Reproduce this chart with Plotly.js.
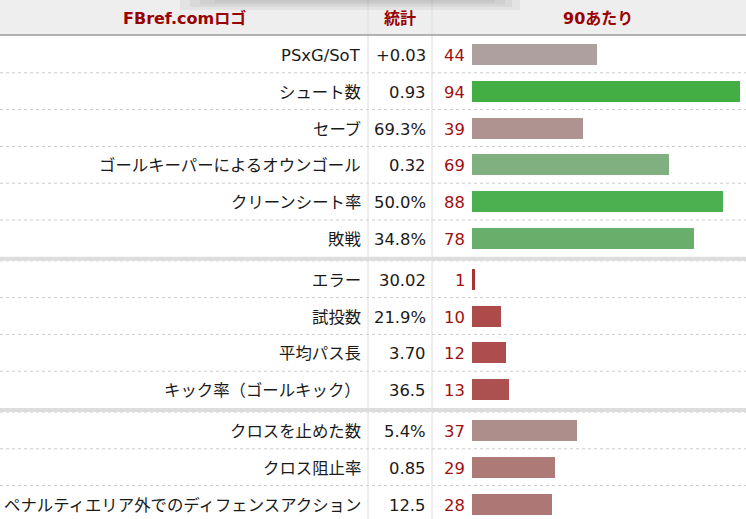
<!DOCTYPE html>
<html>
<head>
<meta charset="utf-8">
<script src="https://cdn.plot.ly/plotly-3.0.1.min.js"></script>
<style>html,body{margin:0;padding:0;background:#fff;}#chart{width:746px;height:519px;}</style>
</head>
<body>
<div id="chart"></div>
<script>
// ---- data ----
var headers = ["FBref.comロゴ", "統計", "90あたり"];
var labels = [
  "PSxG/SoT", "シュート数", "セーブ", "ゴールキーパーによるオウンゴール", "クリーンシート率", "敗戦",
  "エラー", "試投数", "平均パス長", "キック率（ゴールキック）",
  "クロスを止めた数", "クロス阻止率", "ペナルティエリア外でのディフェンスアクション"
];
var stats = ["+0.03", "0.93", "69.3%", "0.32", "50.0%", "34.8%",
             "30.02", "21.9%", "3.70", "36.5",
             "5.4%", "0.85", "12.5"];
var percentiles = [44, 94, 39, 69, 88, 78, 1, 10, 12, 13, 37, 29, 28];
var groupSizes = [6, 4, 3];

// ---- style ----
var barColors = ["#ada09e", "#42ae44", "#ae9391", "#80b080", "#4caf50", "#69ae6b",
                 "#a83535", "#ad4b4b", "#ad4d4d", "#ad5050",
                 "#ae8e8b", "#ad7a77", "#ad7775"];
var W = 746, H = 519;
var headerH = 35, rowH = 36.8, sepH = 4;
var barStart = 472, pxPerUnit = 268 / 94;
var col1 = 368, col2 = 432;
var font = "DejaVu Sans, 'Noto Sans CJK JP', sans-serif";
var fs = 16.4;
function px(x) { return x / W; }

// row layout
var centers = [], rowTops = [], sepTops = [];
var y = headerH + 1;
groupSizes.forEach(function (n, g) {
  for (var i = 0; i < n; i++) {
    rowTops.push(y);
    centers.push(y + rowH / 2);
    y += rowH;
  }
  if (g < groupSizes.length - 1) { sepTops.push(y); y += sepH; }
});

var shapes = [];
// header background
shapes.push({type: "rect", xref: "paper", yref: "y", x0: 0, x1: 1, y0: 0, y1: headerH, fillcolor: "#eeeeee", line: {width: 0}, layer: "below"});
// row dotted lines
rowTops.forEach(function (t, i) {
  if (i === 0) return;
  shapes.push({type: "line", xref: "paper", yref: "y", x0: 0, x1: 1, y0: t, y1: t, line: {color: "#cccccc", width: 1, dash: "dot"}, layer: "below"});
});
// group separators
sepTops.forEach(function (t) {
  shapes.push({type: "rect", xref: "paper", yref: "y", x0: 0, x1: 1, y0: t, y1: t + sepH, fillcolor: "#dddddd", line: {width: 0}, layer: "below"});
});
// column lines
[col1, col2].forEach(function (c) {
  shapes.push({type: "line", xref: "paper", yref: "y", x0: px(c), x1: px(c), y0: 0, y1: H, line: {color: "#dcdcdc", width: 1}, layer: "below"});
});
// header bottom border
shapes.push({type: "line", xref: "paper", yref: "y", x0: 0, x1: 1, y0: headerH, y1: headerH, line: {color: "#9a9a9a", width: 1.5}, layer: "below"});
// top shadow (approximation)
[[180, 520, 10], [190, 512, 7], [200, 505, 4.5], [215, 495, 2.5]].forEach(function (s) {
  shapes.push({type: "rect", xref: "paper", yref: "y", x0: px(s[0]), x1: px(s[1]), y0: 0, y1: s[2], fillcolor: "rgba(0,0,0,0.045)", line: {width: 0}, layer: "above"});
});

var annotations = [];
var headerX = [184, 400, 598];
headers.forEach(function (h, i) {
  annotations.push({xref: "paper", yref: "y", x: px(headerX[i]), y: headerH / 2 + 0.5, text: "<b>" + h + "</b>", showarrow: false, xanchor: "center", yanchor: "middle", font: {family: font, size: 16, color: "#990000"}});
});
labels.forEach(function (l, i) {
  annotations.push({xref: "paper", yref: "y", x: px(363), y: centers[i] + 1, text: l, showarrow: false, xanchor: "right", yanchor: "middle", font: {family: font, size: fs, color: "#1a1a1a"}});
  annotations.push({xref: "paper", yref: "y", x: px(428), y: centers[i] + 1, text: stats[i], showarrow: false, xanchor: "right", yanchor: "middle", font: {family: font, size: fs, color: "#1a1a1a"}});
  annotations.push({xref: "paper", yref: "y", x: px(467), y: centers[i] + 1, text: String(percentiles[i]), showarrow: false, xanchor: "right", yanchor: "middle", font: {family: font, size: fs, color: "#a01010"}});
});

var trace = {
  type: "bar", orientation: "h",
  x: percentiles, y: centers, width: 21, base: 0,
  marker: {color: barColors, line: {width: 0}},
  hoverinfo: "none", showlegend: false
};

var layout = {
  width: W, height: H,
  margin: {l: 0, r: 0, t: 0, b: 0, pad: 0},
  paper_bgcolor: "#ffffff", plot_bgcolor: "rgba(0,0,0,0)",
  xaxis: {range: [-barStart / pxPerUnit, (W - barStart) / pxPerUnit], visible: false, fixedrange: true},
  yaxis: {range: [H, 0], visible: false, fixedrange: true},
  shapes: shapes, annotations: annotations,
  font: {family: font},
  bargap: 0
};

Plotly.newPlot("chart", [trace], layout, {displayModeBar: false, staticPlot: true});
</script>
</body>
</html>
